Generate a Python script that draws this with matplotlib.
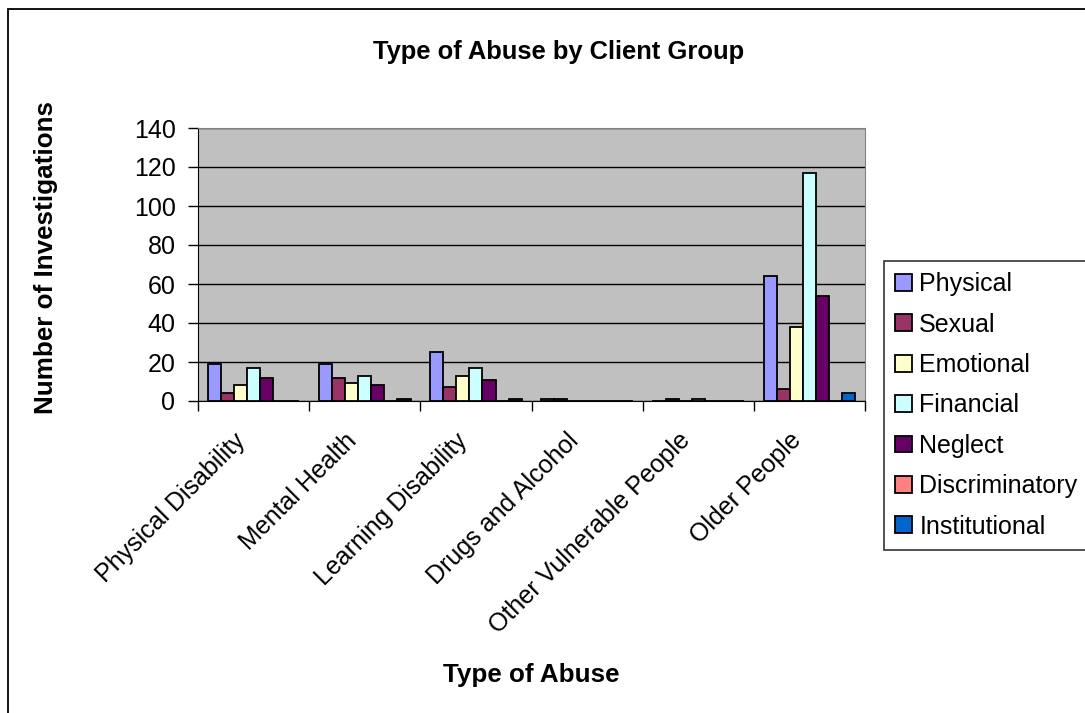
import numpy as np
import matplotlib.pyplot as plt
from matplotlib.patches import Rectangle
from matplotlib.transforms import ScaledTranslation

plt.rcParams['font.family'] = ['Liberation Sans', 'DejaVu Sans']

# Client groups and investigation counts per abuse type
groups = ['Physical Disability', 'Mental Health', 'Learning Disability',
          'Drugs and Alcohol', 'Other Vulnerable People', 'Older People']
physical = [19, 19, 25, 1, 0, 64]
sexual = [4, 12, 7, 1, 1, 6]
emotional = [8, 9, 13, 0, 0, 38]
financial = [17, 13, 17, 0, 1, 117]
neglect = [12, 8, 11, 0, 0, 54]
discriminatory = [0, 0, 0, 0, 0, 0]
institutional = [0, 1, 1, 0, 0, 4]

series = [('Physical', physical, '#9999FF'),
          ('Sexual', sexual, '#993366'),
          ('Emotional', emotional, '#FFFFCC'),
          ('Financial', financial, '#CCFFFF'),
          ('Neglect', neglect, '#660066'),
          ('Discriminatory', discriminatory, '#FF8080'),
          ('Institutional', institutional, '#0066CC')]

W, H = 1085, 713
fig = plt.figure(figsize=(W / 100, H / 100), dpi=100)

# outer chart frame (runs off the right and bottom edges)
fig.patches.append(Rectangle((8 / W, -0.1), 1.2, 1 - 9 / H + 0.1,
                             transform=fig.transFigure, fill=False,
                             edgecolor='black', linewidth=1.3))

ax = fig.add_axes([198 / W, 1 - 401 / H, (865 - 198) / W, (401 - 128) / H])
ax.set_facecolor('#C0C0C0')

x = np.arange(len(groups))
w = 1 / 8.5
for j, (name, vals, col) in enumerate(series):
    ax.bar(x + (j - 3) * w, vals, width=w, color=col, edgecolor='black',
           linewidth=1.3, label=name, zorder=3)

ax.set_xlim(-0.5, len(groups) - 0.5)
ax.set_ylim(0, 140)
ax.set_yticks(range(0, 141, 20))
ax.yaxis.grid(True, color='black', linewidth=1)
ax.set_axisbelow(True)
ax.tick_params(axis='y', direction='out', length=7.2, width=1, labelsize=18,
               pad=9)

# group boundaries get the tick marks, labels sit under group centres
ax.set_xticks(x)
ax.set_xticklabels([])
ax.set_xticks(np.arange(-0.5, len(groups), 1), minor=True)
ax.tick_params(axis='x', which='major', length=0)
ax.tick_params(axis='x', which='minor', direction='out', length=7, width=1)

shift = ScaledTranslation(-12 / 100, -36 / 100, fig.dpi_scale_trans)
for xi, name in zip(x, groups):
    ax.text(xi, 0, name, transform=ax.get_xaxis_transform() + shift,
            rotation=45, rotation_mode='anchor', ha='right', va='center',
            fontsize=18)

for side in ['top', 'right']:
    ax.spines[side].set_color('#808080')
ax.spines['left'].set_color('black')
ax.spines['bottom'].set_color('black')

fig.text(559 / W, 1 - 52 / H, 'Type of Abuse by Client Group', ha='center',
         va='center', fontsize=18.4, fontweight='bold')
fig.text(531 / W, 1 - 675 / H, 'Type of Abuse', ha='center', va='center',
         fontsize=18.7, fontweight='bold')
fig.text(46 / W, 1 - 257 / H, 'Number of Investigations', ha='center',
         va='center', rotation=90, fontsize=18.7, fontweight='bold')

leg = fig.legend(loc='upper left', bbox_to_anchor=(884 / W, 1 - 261 / H),
                 fontsize=18, frameon=True, fancybox=False, shadow=False,
                 borderaxespad=0, borderpad=0.45, labelspacing=0.655,
                 handlelength=0.66, handleheight=0.66, handletextpad=0.3)
leg.get_frame().set_edgecolor('black')
leg.get_frame().set_linewidth(1.2)

fig.savefig('out.png', dpi=100)
